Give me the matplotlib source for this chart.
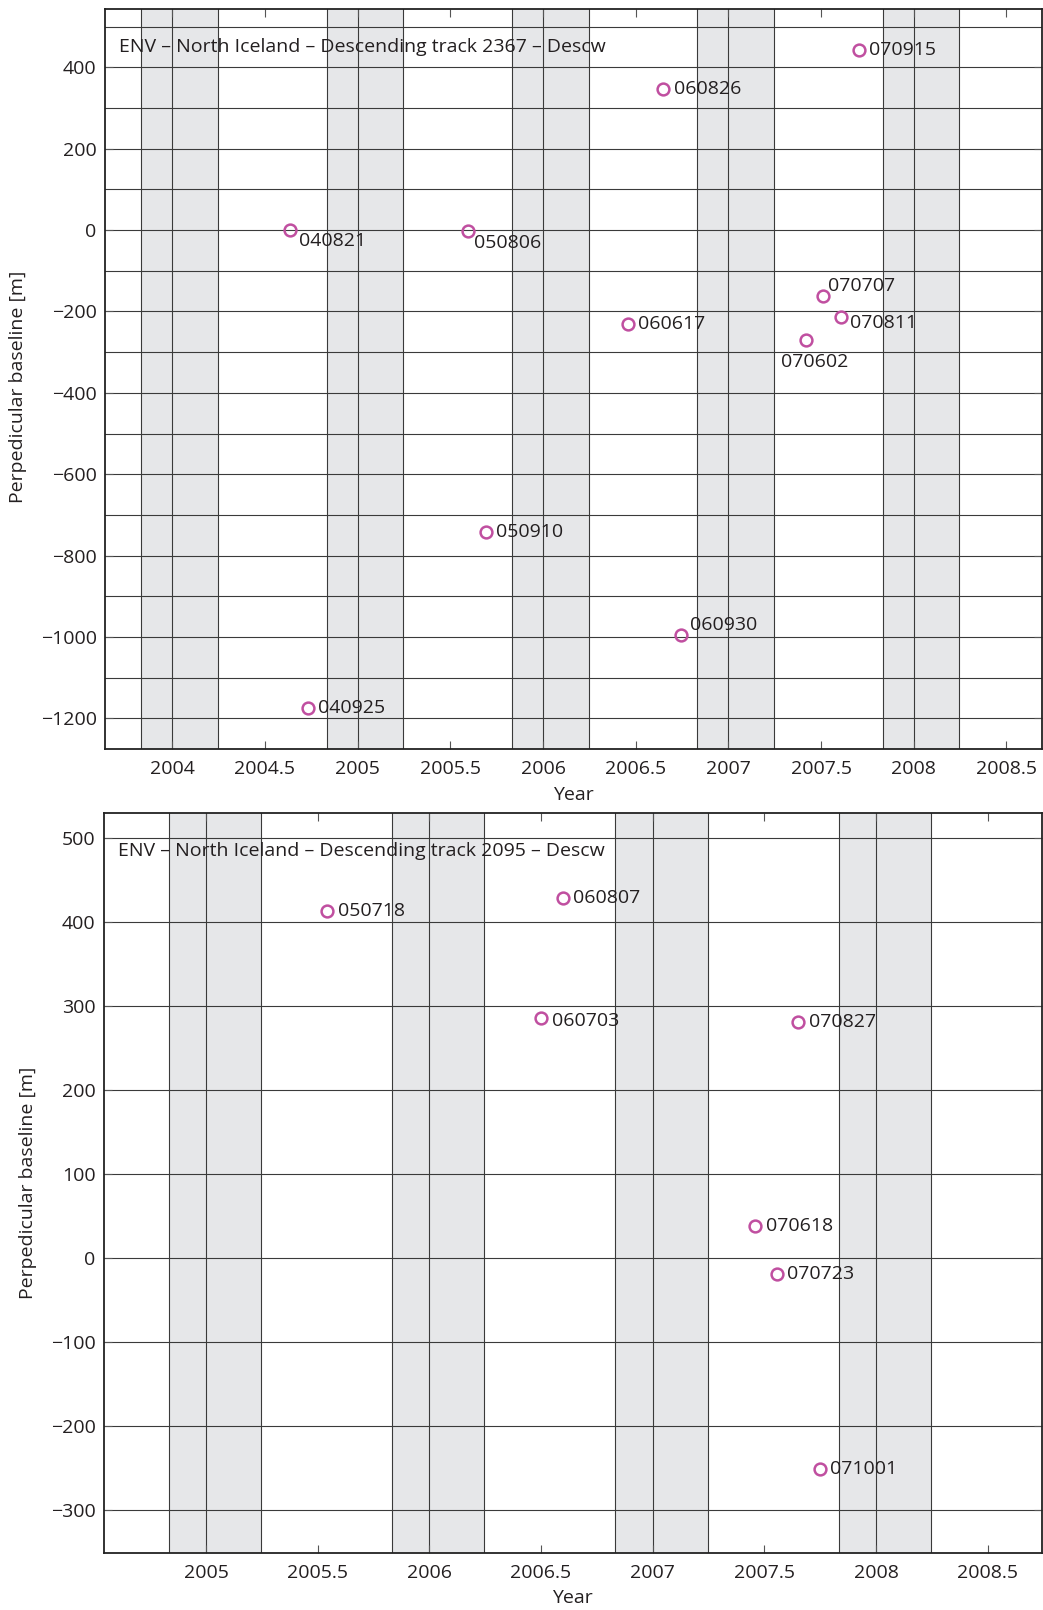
"""
Perpendicular baseline vs. time for two ENVISAT descending tracks (North Iceland).
Outputs: out.png
"""

import matplotlib
matplotlib.use("Agg")

import matplotlib.pyplot as plt
from datetime import date

plt.rcParams["font.family"] = ["Open Sans", "DejaVu Sans"]

# ---------------------------------------------------------------------------
# Data (acquisition dates yymmdd, perpendicular baseline in m)
# ---------------------------------------------------------------------------
dates_2367 = ["040821", "040925", "050806", "050910", "060617", "060826",
              "060930", "070602", "070707", "070811", "070915"]
bperp_2367 = [0, -1175, -3, -743, -232, 346, -994, -271, -163, -214, 443]

dates_2095 = ["050718", "060703", "060807", "070618", "070723", "070827",
              "071001"]
bperp_2095 = [413, 286, 429, 38, -19, 281, -252]

# winter (Nov 1 - Apr 1) shading, keyed by the January year
winters_2367 = [2004, 2005, 2006, 2007, 2008]
winters_2095 = [2005, 2006, 2007, 2008]

xticks_2367 = [2004, 2004.5, 2005, 2005.5, 2006, 2006.5, 2007, 2007.5, 2008, 2008.5]
xticks_2095 = [2005, 2005.5, 2006, 2006.5, 2007, 2007.5, 2008, 2008.5]
yticks_2367 = list(range(-1200, 401, 200))
ygrid_2367 = list(range(-1200, 501, 100))
yticks_2095 = list(range(-300, 501, 100))

# label offsets in points (dx, dy, ha); default is to the right
LABEL_OFFSETS = {
    "040821": (6.3, -7.7, "left"),
    "050806": (4.5, -8.4, "left"),
    "060930": (6.5, 6.7, "left"),
    "070602": (6.2, -15.8, "center"),
    "070707": (3.1, 7.6, "left"),
    "070811": (6.7, -4.5, "left"),
    "060703": (7.7, -2.7, "left"),
}
DEFAULT_OFFSET = (7.5, 0, "left")

CLR_MARK = "#C04FA0"
CLR_WINTER = "#E6E7E9"
CLR_GRID = "#3a3a3a"
CLR_TEXT = "#231F20"
FS = 14


def decimal_year(s):
    yy = 2000 + int(s[:2])
    d = date(yy, int(s[2:4]), int(s[4:6]))
    start = date(yy, 1, 1)
    n = (date(yy + 1, 1, 1) - start).days
    return yy + (d - start).days / n


NOV1 = 304 / 365
APR1 = 90 / 365


def draw_panel(ax, dates, bperp, winters, xticks, yticks, ygrid, xlim, ylim, title):
    ax.set_xlim(*xlim)
    ax.set_ylim(*ylim)

    # winter bands and seasonal grid lines
    for yr in winters:
        x0, x1 = yr - 1 + NOV1, yr + APR1
        ax.axvspan(x0, x1, color=CLR_WINTER, lw=0, zorder=0)
        for xv in (x0, yr, x1):
            ax.axvline(xv, color=CLR_GRID, lw=0.8, zorder=1)
    for yv in ygrid:
        ax.axhline(yv, color=CLR_GRID, lw=0.8, zorder=1)

    xs = [decimal_year(d) for d in dates]
    ax.plot(xs, bperp, "o", ms=8.5, mfc="none", mec=CLR_MARK, mew=1.8, zorder=3)
    for d, x, y in zip(dates, xs, bperp):
        dx, dy, ha = LABEL_OFFSETS.get(d, DEFAULT_OFFSET)
        ax.annotate(d, (x, y), xytext=(dx, dy), textcoords="offset points",
                    ha=ha, va="center", fontsize=FS, color=CLR_TEXT, zorder=4)

    ax.text(0.015, 0.948, title, transform=ax.transAxes, ha="left", va="center",
            fontsize=FS, color=CLR_TEXT, zorder=4)

    ax.set_xticks(xticks)
    ax.set_xticklabels([f"{t:g}" for t in xticks])
    ax.set_yticks(yticks)
    ax.set_yticklabels([f"{t:d}".replace("-", "\u2212") for t in yticks])
    ax.tick_params(direction="in", top=True, right=True, length=6, width=0.8,
                   color="#555555", labelsize=FS, labelcolor=CLR_TEXT)
    ax.tick_params(axis="x", pad=8)
    ax.tick_params(axis="y", pad=6)
    for sp in ax.spines.values():
        sp.set_linewidth(1.3)
        sp.set_color("#222222")
        sp.set_zorder(5)

    ax.set_xlabel("Year", fontsize=FS, color=CLR_TEXT)
    ax.set_ylabel("Perpedicular baseline [m]", fontsize=FS, color=CLR_TEXT)


fig = plt.figure(figsize=(10.43, 16.10), dpi=100)

ax1 = fig.add_axes([0.1007, 0.5348, 0.8980, 0.4596])
draw_panel(ax1, dates_2367, bperp_2367, winters_2367, xticks_2367, yticks_2367,
           ygrid_2367, (2003.637, 2008.69), (-1275, 543),
           "ENV \u2013 North Iceland \u2013 Descending track 2367 \u2013 Descw")
ax1.xaxis.set_label_coords(0.5, -0.05)
ax1.yaxis.set_label_coords(-0.083, 0.49)

ax2 = fig.add_axes([0.0997, 0.0352, 0.8990, 0.4600])
draw_panel(ax2, dates_2095, bperp_2095, winters_2095, xticks_2095, yticks_2095,
           yticks_2095, (2004.543, 2008.742), (-352, 530),
           "ENV \u2013 North Iceland \u2013 Descending track 2095 \u2013 Descw")
ax2.xaxis.set_label_coords(0.5, -0.048)
ax2.yaxis.set_label_coords(-0.0715, 0.5)

fig.savefig("out.png", dpi=100, facecolor="white")
plt.close(fig)
